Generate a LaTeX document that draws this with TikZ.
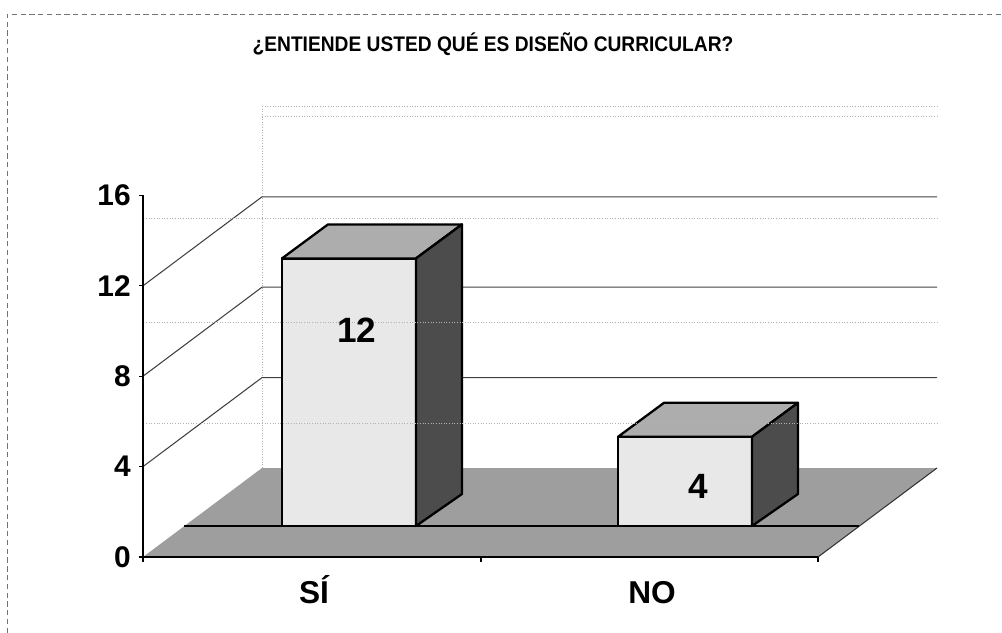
\documentclass[tikz,border=0pt]{standalone}
\usepackage{fontspec}
\setmainfont{Liberation Sans}
\usetikzlibrary{positioning}

\tikzset{
  face/.style={draw=black, line width=1.3pt, line join=round},
  grid line/.style={draw=black!75, line width=0.6pt},
  scan dots/.style={draw=black!30, densely dotted, line width=0.5pt},
  axis label/.style={font=\bfseries\fontsize{17}{17}\selectfont, anchor=east, inner sep=0pt},
  value/.style={font=\bfseries\fontsize{20}{20}\selectfont, inner sep=0pt},
  category/.style={font=\bfseries\fontsize{18}{18}\selectfont, inner sep=0pt, anchor=base},
}

\begin{document}
\begin{tikzpicture}[x=0.02cm, y=-0.02cm]
  \useasboundingbox (0,0) rectangle (1002,633);
  \def \unit {22.6}  % px per unit on the axis
  \def \bar {22.3}   % px per unit on the bars
  \def \bw {134}     % bar width

  % frame
  \draw[black!55, densely dashed, line width=0.5pt] (7,633) -- (7,14) -- (1002,14);
  \node[font=\bfseries\fontsize{12}{12}\selectfont] (title) at (493,44)
    {\scalebox{0.91}[1]{¿ENTIENDE USTED QUÉ ES DISEÑO CURRICULAR?}};

  % back wall and side wall
  \draw[scan dots] (262,106) -- (937,106);
  \draw[scan dots] (262,116) -- (937,116);
  \draw[scan dots] (262,106) -- (262,468);
  \foreach \v in {4,8,12}
  {
    \draw[grid line] (143,{557-\v*\unit}) -- ++(119,-89) -- (937,{557-\v*\unit-89});
  }

  % floor
  \fill[black!38] (143,557) -- (818,557) -- (937,468) -- (262,468) -- cycle;
  \draw[black!80, line width=0.6pt] (818,557) -- (937,468);
  \draw[line width=1.2pt] (184,526) -- (859,526);

  % axes
  \draw[line width=0.8pt] (143,195) -- (143,557) -- (818,557);
  \foreach \v in {0,4,...,16}
  {
    \draw[line width=0.6pt] (143,{557-\v*\unit}) -- ++(-4,0);
    \node[axis label] (y\v) at (131,{557-\v*\unit}) {\v};
  }
  \foreach \x in {143,481,818}
    \draw[line width=0.6pt] (\x,557) -- ++(0,5);

  % bars
  \foreach \x/\v in {282/12, 618/4}
  {
    \pgfmathsetmacro\bartop{526-\v*\bar}
    \filldraw[face, fill=black!9] (\x,526) rectangle (\x+\bw,\bartop);
    \filldraw[face, fill=black!32] (\x,\bartop) -- ++(46,-34) -- ++(\bw,0) -- ++(-46,34) -- cycle;
    \filldraw[face, fill=black!70] (\x+\bw,526) -- ++(46,-32) -- (\x+\bw+46,\bartop-34) -- (\x+\bw,\bartop) -- cycle;
  }

  % scanner lines
  \foreach \y in {218,322,423}
    \draw[scan dots] (146,\y) -- (937,\y);

  % labels
  \node[value] (v12) at (357,330) {12};
  \node[value] (v4) at (698,486) {4};
  \node[category] (si) at (314,603) {SÍ};
  \node[category] (no) at (652,603) {NO};
\end{tikzpicture}
\end{document}
